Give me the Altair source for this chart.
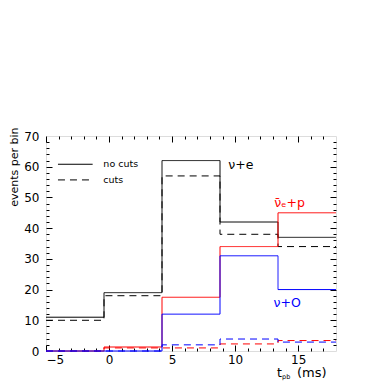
import altair as alt
import pandas as pd

# bin edges (ms) and counts per bin
edges = [-5, -0.4, 4.2, 8.8, 13.4, 18]
e_nocuts = [11, 19, 62, 42, 37]
e_cuts = [10, 18, 57, 38, 34]
p_nocuts = [0, 1.3, 17.5, 34, 45]
p_cuts = [0, 1, 1, 2.3, 3.4]
o_nocuts = [0, 0, 12, 31, 20]
o_cuts = [0, 0, 2, 3.9, 2.9]

series = [
    ("e", "no cuts", e_nocuts),
    ("e", "cuts", e_cuts),
    ("p", "no cuts", p_nocuts),
    ("p", "cuts", p_cuts),
    ("o", "no cuts", o_nocuts),
    ("o", "cuts", o_cuts),
]
rows = []
for s, c, vals in series:
    for i, v in enumerate(vals):
        rows.append({"x": edges[i], "y": v, "series": s, "cut": c, "key": s + c})
    rows.append({"x": edges[-1], "y": vals[-1], "series": s, "cut": c, "key": s + c})
df = pd.DataFrame(rows)

FONT = "DejaVu Sans"
W, H = 290, 215
xs = alt.Scale(domain=[-5, 18], nice=False, zero=False)
ys = alt.Scale(domain=[0, 70], nice=False)

lines = alt.Chart(df).mark_line(interpolate="step-after", strokeWidth=1).encode(
    x=alt.X("x:Q", scale=xs, axis=None),
    y=alt.Y("y:Q", scale=ys, axis=None),
    color=alt.Color("series:N", scale=alt.Scale(domain=["e", "p", "o"], range=["black", "#ff0000", "#0000ff"]),
                    legend=None),
    strokeDash=alt.StrokeDash("cut:N", scale=alt.Scale(domain=["no cuts", "cuts"], range=[[1, 0], [7, 5]]),
                              legend=None),
    detail="key:N",
)

leg_solid = alt.Chart().mark_rule(color="black", strokeWidth=1).encode(
    x=alt.XDatum(-4.05, scale=xs, axis=None), x2=alt.X2Datum(-1.3),
    y=alt.YDatum(60.8, scale=ys, axis=None))
leg_dash = alt.Chart().mark_rule(color="black", strokeWidth=1, strokeDash=[7, 5]).encode(
    x=alt.XDatum(-4.05, scale=xs, axis=None), x2=alt.X2Datum(-1.3),
    y=alt.YDatum(55.7, scale=ys, axis=None))


def label(txt, x, y, color="black", size=9.5):
    return alt.Chart().mark_text(text=txt, align="left", baseline="middle", font=FONT, fontSize=size,
                                 color=color).encode(
        x=alt.XDatum(x, scale=xs, axis=None), y=alt.YDatum(y, scale=ys, axis=None))


texts = [
    label("no cuts", -0.45, 60.8),
    label("cuts", -0.45, 55.7),
    label("ν+e", 9.45, 60.6, size=12.5),
    label("ν̄ₑ+p", 13.1, 48.3, color="#ff0000", size=12.5),
    label("ν+O", 13.05, 15.7, color="#0000ff", size=12.5),
]

xt = [
    alt.Chart().mark_text(text="t", align="left", baseline="alphabetic", font=FONT, fontSize=12.5,
                          color="black").encode(x=alt.value(231), y=alt.value(241)),
    alt.Chart().mark_text(text="pb", align="left", baseline="alphabetic", font=FONT, fontSize=6.5,
                          color="black").encode(x=alt.value(236), y=alt.value(243)),
    alt.Chart().mark_text(text="(ms)", align="left", baseline="alphabetic", font=FONT, fontSize=13,
                          color="black").encode(x=alt.value(251), y=alt.value(241)),
]

inner = alt.layer(lines, leg_solid, leg_dash, *texts, *xt)

x_major = [-5, 0, 5, 10, 15]
x_minor = [v for v in range(-4, 18) if v % 5 != 0]
y_major = list(range(10, 70, 10))
y_minor = [v for v in range(2, 70, 2) if v % 10 != 0]

label_layer = alt.Chart(df).mark_point(opacity=0).encode(
    x=alt.X("x:Q", scale=xs, axis=alt.Axis(orient="bottom", values=x_major, ticks=False, domain=False,
                                           grid=False, title=None, labelFontSize=12, labelPadding=3,
                                           labelColor="black", labelFont=FONT)),
    y=alt.Y("y:Q", scale=ys, axis=alt.Axis(orient="left", values=list(range(0, 71, 10)), ticks=False,
                                           domain=False, grid=False, title="events per bin",
                                           titleAnchor="end", titleY=-9, titleFontSize=11,
                                           titleFontWeight="normal", titleFont=FONT, titleColor="black",
                                           titlePadding=4, labelFontSize=12, labelPadding=7,
                                           labelColor="black", labelFont=FONT)),
)


def tick_axis(orient, values, size):
    return alt.Axis(orient=orient, values=values, tickSize=size, offset=-size, labels=False, domain=False,
                    grid=False, title=None, ticks=True, tickColor="black", tickWidth=1)


def tick_layer(xo, xv, yo, yv, size):
    return alt.Chart(df).mark_point(opacity=0).encode(
        x=alt.X("x:Q", scale=xs, axis=tick_axis(xo, xv, size)),
        y=alt.Y("y:Q", scale=ys, axis=tick_axis(yo, yv, size)),
    )


chart = alt.layer(
    inner,
    label_layer,
    tick_layer("bottom", x_major, "left", y_major, 6),
    tick_layer("bottom", x_minor, "left", y_minor, 3),
    tick_layer("top", x_major, "right", y_major, 6),
    tick_layer("top", x_minor, "right", y_minor, 3),
).resolve_axis(x="independent", y="independent").properties(
    width=W, height=H,
    autosize=alt.AutoSizeParams(type="none"),
    padding={"left": 38, "top": 128, "right": 30, "bottom": 31},
).configure_view(stroke="black", strokeWidth=1).configure(background="white")

chart.save("out.html", embed_options={"renderer": "svg", "actions": False})
